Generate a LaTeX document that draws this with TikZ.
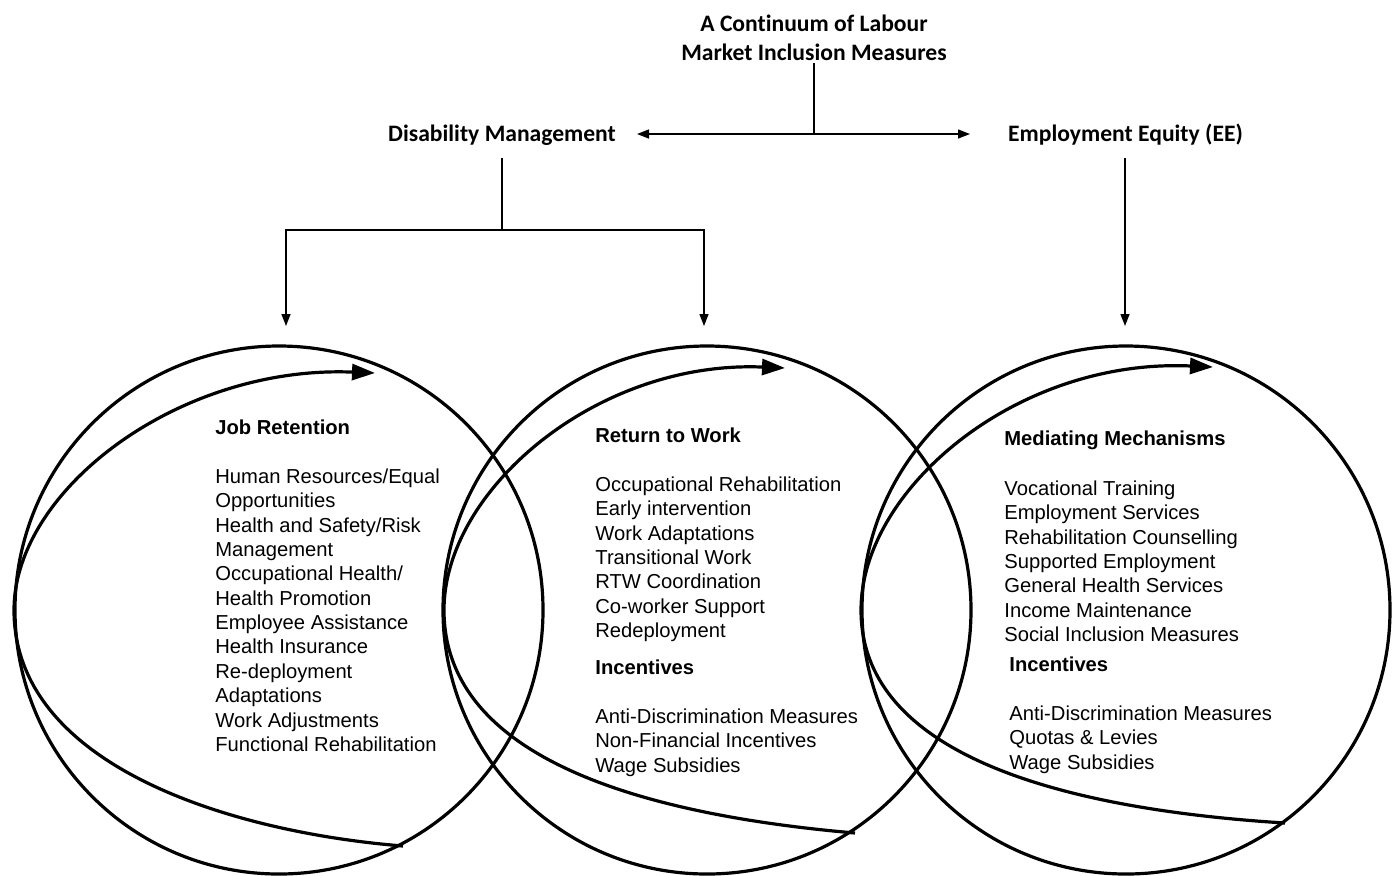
\documentclass[tikz,border=0pt]{standalone}
\usepackage{fontspec}
\setmainfont{Liberation Sans}
\newfontfamily\hdrfont{Carlito}[Ligatures=NoCommon]
\usetikzlibrary{arrows.meta}
\newcommand\topstrut{\rule{0pt}{8pt}}
\begin{document}
\begin{tikzpicture}[x=0.5pt,y=-0.5pt,
  hdr/.style={font=\hdrfont\bfseries\fontsize{11.8}{14.5}\selectfont, inner sep=0pt},
  body/.style={font=\fontsize{10.1}{12.18}\selectfont, inner sep=0pt, align=left, anchor=north west},
  head/.style={font=\bfseries\fontsize{10.1}{12.18}\selectfont, inner sep=0pt, anchor=base west},
  ring/.style={circle, draw, line width=1.6pt, minimum size=264pt, inner sep=0pt},
  link/.style={line width=0.7pt},
  tip/.style={-{Triangle[length=6pt,width=4.5pt]}},
  twotip/.style={{Triangle[length=6pt,width=4.5pt]}-{Triangle[length=6pt,width=4.5pt]}},
  loop/.style={line width=1.6pt, -{Triangle[length=11.5pt,width=8pt]}}]
\useasboundingbox (0,0) rectangle (1397,875);

% header texts
\node[hdr, align=center, anchor=north] (title) at (814,14.6)
  {\topstrut A Continuum of Labour\\Market Inclusion Measures};
\node[hdr, anchor=base] (dm) at (502,141.6) {Disability Management};
\node[hdr, anchor=base] (ee) at (1125.5,141.6) {Employment Equity (EE)};

% connector coordinates
\coordinate (hl) at (637,134);
\coordinate (hr) at (970,134);
\coordinate (dmb) at (502,158);
\coordinate (br) at (502,230);
\coordinate (a1) at (286,326);
\coordinate (a2) at (704,326);
\coordinate (eeb) at (1125,158);
\coordinate (a3) at (1125,326);

\draw[link] ([yshift=-1pt]title.south) -- (title.south |- hl);
\draw[link,twotip] (hl) -- (hr);
\draw[link] (dmb) -- (br);
\draw[link,tip] (br) -| (a1);
\draw[link,tip] (br) -| (a2);
\draw[link,tip] (eeb) -- (a3);

% circles
\node[ring] (c1) at (279,610) {};
\node[ring] (c2) at (707,610) {};
\node[ring] (c3) at (1126,610) {};

% spiral arrows
\begin{scope}[shift={(279,610)}]
  \draw[loop] (124,236) .. controls (-50,222) and (-265,155) .. (-265,0)
    .. controls (-265,-120) and (-100,-245) .. (96,-237);
\end{scope}
\begin{scope}[shift={(707,610)}]
  \draw[loop] (148,223) .. controls (-60,205) and (-263,150) .. (-263,0)
    .. controls (-263,-120) and (-110,-250) .. (78,-242);
\end{scope}
\begin{scope}[shift={(1126,610)}]
  \draw[loop] (159,213) .. controls (-50,200) and (-265,150) .. (-265,0)
    .. controls (-265,-120) and (-110,-252) .. (87,-243);
\end{scope}

% circle 1 text
\node[head] (jr) at (215,434) {Job Retention};
\node[body] (jrl) at (215,467) {\topstrut Human Resources/Equal\\Opportunities\\Health and Safety/Risk\\Management\\Occupational Health/\\Health Promotion\\Employee Assistance\\Health Insurance\\Re-deployment\\Adaptations\\Work Adjustments\\Functional Rehabilitation};

% circle 2 text
\node[head] (rw) at (595,442) {Return to Work};
\node[body] (rwl) at (595,475) {\topstrut Occupational Rehabilitation\\Early intervention\\Work Adaptations\\Transitional Work\\RTW Coordination\\Co-worker Support\\Redeployment};
\node[head] (in2) at (595,674) {Incentives};
\node[body] (in2l) at (595,707) {\topstrut Anti-Discrimination Measures\\Non-Financial Incentives\\Wage Subsidies};

% circle 3 text
\node[head] (mm) at (1004,445) {Mediating Mechanisms};
\node[body] (mml) at (1004,479) {\topstrut Vocational Training\\Employment Services\\Rehabilitation Counselling\\Supported Employment\\General Health Services\\Income Maintenance\\Social Inclusion Measures};
\node[head] (in3) at (1009,671) {Incentives};
\node[body] (in3l) at (1009,704) {\topstrut Anti-Discrimination Measures\\Quotas \& Levies\\Wage Subsidies};
\end{tikzpicture}
\end{document}
